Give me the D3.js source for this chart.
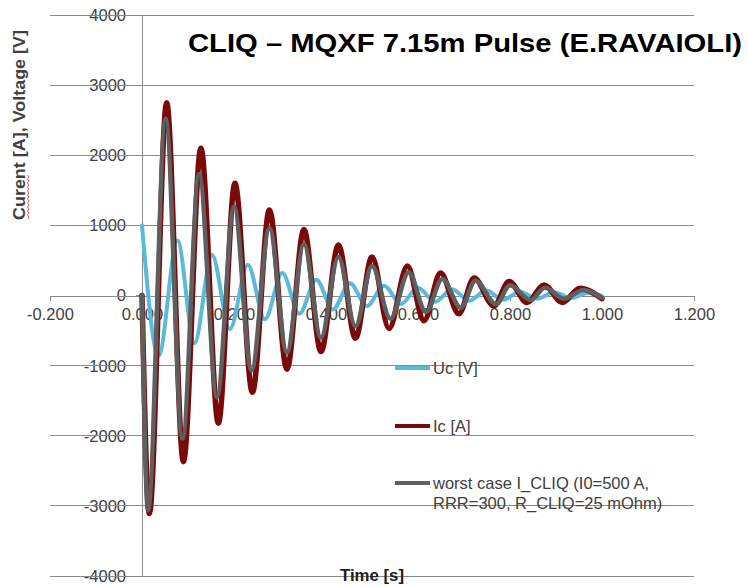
<!DOCTYPE html>
<html>
<head>
<meta charset="utf-8">
<script src="https://cdn.jsdelivr.net/npm/d3@7"></script>
<style>
  html, body { margin: 0; padding: 0; background: #fff; }
  svg { display: block; font-family: "Liberation Sans", Arial, sans-serif; }
</style>
</head>
<body>
<svg id="chart" width="748" height="587"></svg>
<script>
// ---- data ----
const xTicks = [-0.2, 0, 0.2, 0.4, 0.6, 0.8, 1.0, 1.2];
const xTickLabels = ["-0.200", "0.000", "0.200", "0.400", "0.600", "0.800", "1.000", "1.200"];
const yTicks = [-4000, -3000, -2000, -1000, 0, 1000, 2000, 3000, 4000];
const yTickLabels = ["-4000", "-3000", "-2000", "-1000", "0", "1000", "2000", "3000", "4000"];

// Uc [V]
const ucTime = [0, 0.036, 0.077, 0.114, 0.152, 0.191, 0.230, 0.267, 0.305, 0.342, 0.379, 0.415, 0.452, 0.489,
                0.526, 0.563, 0.600, 0.637, 0.674, 0.711, 0.748, 0.785, 0.822, 0.859, 0.896, 0.933, 0.970, 1.0];
const ucVolt = [1000, -860, 785, -680, 580, -480, 440, -340, 320, -260, 225, -200, 175, -150,
                140, -120, 110, -90, 90, -75, 70, -60, 55, -45, 45, -35, 35, -10];

// Ic [A]
const icTime = [0, 0.016, 0.0536, 0.090, 0.128, 0.166, 0.202, 0.240, 0.277, 0.315, 0.352, 0.389, 0.427, 0.464,
                0.500, 0.537, 0.577, 0.613, 0.649, 0.689, 0.722, 0.765, 0.798, 0.837, 0.874, 0.914, 0.952, 1.0];
const icAmp  = [0, -3110, 2750, -2370, 2100, -1820, 1600, -1380, 1220, -1050, 940, -800, 720, -610,
                550, -470, 420, -360, 320, -260, 250, -150, 200, -100, 150, -100, 105, -45];

// worst case I_CLIQ
const wcTime = [0, 0.013, 0.0514, 0.088, 0.124, 0.163, 0.200, 0.238, 0.277, 0.315, 0.352, 0.389, 0.427, 0.464,
                0.500, 0.540, 0.580, 0.617, 0.653, 0.693, 0.725, 0.770, 0.800, 0.845, 0.876, 0.917, 0.960, 1.0];
const wcAmp  = [0, -3060, 2520, -2040, 1730, -1450, 1270, -1070, 960, -810, 730, -600, 550, -440,
                420, -330, 330, -235, 235, -175, 210, -125, 145, -65, 110, -45, 80, -35];

const seriesNames = ["Uc [V]", "Ic [A]", "worst case I_CLIQ (I0=500 A,|RRR=300, R_CLIQ=25 mOhm)"];
const seriesColors = ["#5bbad9", "#7a0a0a", "#5f5f5f"];

// ---- drawing ----
const svg = d3.select("#chart");
const x = d3.scaleLinear().domain([-0.2, 1.2]).range([50, 694]);
const y = d3.scaleLinear().domain([-4000, 4000]).range([576, 15]);
const gridColor = "#8a8a8a";
const labelColor = "#404040";

// y tick labels
svg.append("g").selectAll("text").data(yTicks).join("text")
  .attr("x", 126).attr("y", d => y(d)).attr("dy", "0.36em")
  .attr("text-anchor", "end").attr("font-size", 16.5).attr("fill", labelColor)
  .text((d, i) => yTickLabels[i]);

// horizontal gridlines
svg.append("g").selectAll("line").data(yTicks.filter(d => d !== 0)).join("line")
  .attr("x1", x(-0.2)).attr("x2", x(1.2)).attr("y1", d => y(d)).attr("y2", d => y(d))
  .attr("stroke", gridColor).attr("stroke-width", 1).attr("shape-rendering", "crispEdges");

// y axis line
svg.append("line").attr("x1", x(0)).attr("x2", x(0)).attr("y1", y(4000)).attr("y2", y(-4000))
  .attr("stroke", gridColor).attr("stroke-width", 1).attr("shape-rendering", "crispEdges");
// y axis ticks (outside)
svg.append("g").selectAll("line").data(yTicks).join("line")
  .attr("x1", x(0) - 6).attr("x2", x(0)).attr("y1", d => y(d)).attr("y2", d => y(d))
  .attr("stroke", gridColor).attr("shape-rendering", "crispEdges");

// x axis
const xAxis = d3.axisBottom(x).tickValues(xTicks).tickSize(5).tickSizeOuter(0)
  .tickFormat((d, i) => xTickLabels[i]);
const gx = svg.append("g").attr("transform", `translate(0,${y(0)})`).call(xAxis);
gx.select(".domain").attr("stroke", gridColor).attr("shape-rendering", "crispEdges");
gx.selectAll(".tick line").attr("stroke", gridColor).attr("shape-rendering", "crispEdges");
gx.selectAll(".tick text").attr("font-size", 16.5).attr("fill", labelColor)
  .attr("font-family", "Liberation Sans, Arial, sans-serif").attr("y", 13).attr("dy", "0.71em");

// series lines
const line = d3.line().x(d => x(d[0])).y(d => y(d[1])).curve(d3.curveMonotoneX);
const series = [
  { pts: d3.zip(ucTime, ucVolt), color: seriesColors[0], w: 4 },
  { pts: d3.zip(icTime, icAmp), color: seriesColors[1], w: 5.5 },
  { pts: d3.zip(wcTime, wcAmp), color: seriesColors[2], w: 4.5 }
];
svg.append("g").selectAll("path").data(series).join("path")
  .attr("d", d => line(d.pts)).attr("fill", "none")
  .attr("stroke", d => d.color).attr("stroke-width", d => d.w)
  .attr("stroke-linejoin", "round").attr("stroke-linecap", "round");

// legend
const legY = [368, 426, 483];
const leg = svg.append("g").selectAll("g").data(seriesNames).join("g")
  .attr("transform", (d, i) => `translate(395,${legY[i]})`);
leg.append("line").attr("x1", 0).attr("x2", 35).attr("y1", 0).attr("y2", 0)
  .attr("stroke", (d, i) => seriesColors[i]).attr("stroke-width", 4);
leg.append("text").attr("x", 38).attr("font-size", 16.5).attr("fill", labelColor)
  .each(function(d) {
    const parts = d.split("|");
    const t = d3.select(this);
    parts.forEach((p, j) => t.append("tspan").attr("x", 38).attr("y", j * 20).attr("dy", "0.36em").text(p));
  });

// title
svg.append("text").attr("x", 188).attr("y", 52).attr("font-size", 26.5).attr("font-weight", "bold")
  .attr("fill", "#000").attr("textLength", 554).attr("lengthAdjust", "spacingAndGlyphs")
  .text("CLIQ – MQXF 7.15m Pulse (E.RAVAIOLI)");

// y axis title
svg.append("text").attr("transform", "translate(25,125) rotate(-90)")
  .attr("text-anchor", "middle").attr("font-size", 16).attr("font-weight", "bold").attr("fill", labelColor)
  .attr("textLength", 190).attr("lengthAdjust", "spacingAndGlyphs")
  .text("Curent [A], Voltage [V]");
// red spell-check underline under "Curent"
const wave = d3.range(0, 46, 2).map((v, i) => [27.5 + (i % 2 ? 1.5 : 0), 219 - v]);
svg.append("path").attr("d", d3.line()(wave)).attr("fill", "none").attr("stroke", "#e03030").attr("stroke-width", 0.8);

// x axis title
svg.append("text").attr("x", 372).attr("y", 581).attr("text-anchor", "middle")
  .attr("font-size", 16).attr("font-weight", "bold").attr("fill", "#202020")
  .attr("textLength", 64).attr("lengthAdjust", "spacingAndGlyphs").text("Time [s]");
</script>
</body>
</html>
